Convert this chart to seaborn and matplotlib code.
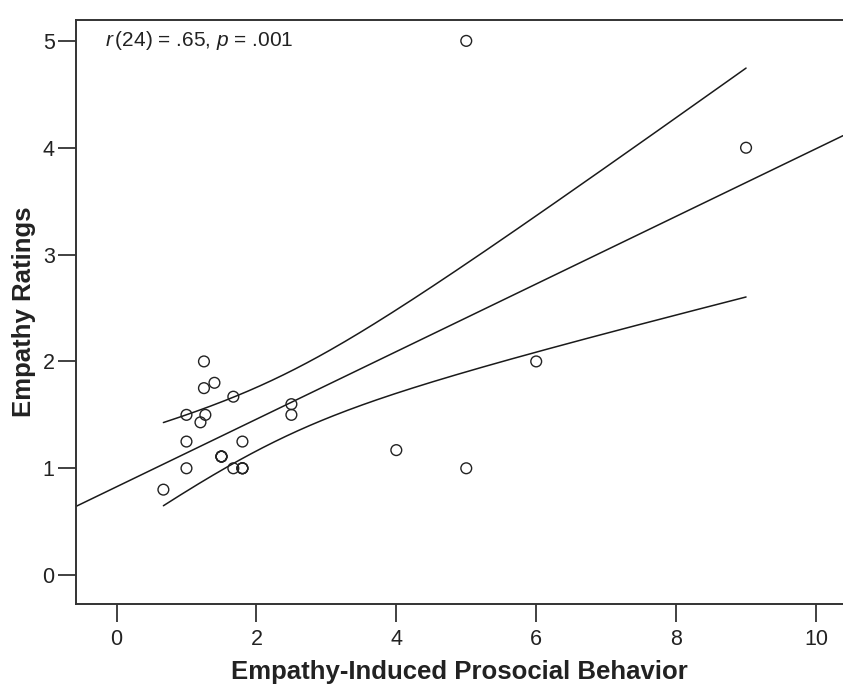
import numpy as np
import pandas as pd
import matplotlib
matplotlib.use("Agg")
import matplotlib.pyplot as plt
import seaborn as sns

# prosocial behaviour (x) and empathy rating (y), one entry per participant
prosocial = [0.67, 1.0, 1.0, 1.0, 1.25, 1.25, 1.4, 1.2, 1.27, 1.5,
             1.5, 1.5, 1.5, 1.67, 1.67, 1.8, 1.8, 1.8, 1.8, 2.5,
             2.5, 5.0, 9.0, 6.0, 4.0, 5.0]
empathy = [0.8, 1.5, 1.25, 1.0, 2.0, 1.75, 1.8, 1.43, 1.5, 1.11,
           1.11, 1.11, 1.11, 1.67, 1.0, 1.25, 1.0, 1.0, 1.0, 1.6,
           1.5, 5.0, 4.0, 2.0, 1.17, 1.0]
x_ticks = [0, 2, 4, 6, 8, 10]
y_ticks = [0, 1, 2, 3, 4, 5]
annotation = r"$\mathit{r}\,$(24) = .65, $\mathit{p}$ = .001"
T_CRIT = 2.064  # t(0.975, df=24)

sns.set_style("white")
plt.rcParams["font.family"] = ["Liberation Sans", "DejaVu Sans"]
plt.rcParams["mathtext.fontset"] = "custom"
plt.rcParams["mathtext.it"] = "Liberation Sans:italic"
plt.rcParams["mathtext.rm"] = "Liberation Sans"

df = pd.DataFrame({"x": prosocial, "y": empathy})

# least squares fit + 95% CI of the mean
x = df["x"].to_numpy()
y = df["y"].to_numpy()
n = len(x)
slope, intercept = np.polyfit(x, y, 1)
resid = y - (intercept + slope * x)
s = np.sqrt(np.sum(resid ** 2) / (n - 2))
sxx = np.sum((x - x.mean()) ** 2)

xlim = (-0.586, 10.386)
ylim = (-0.27, 5.197)

fit_x = np.linspace(xlim[0], xlim[1], 50)
fit = pd.DataFrame({"x": fit_x, "y": intercept + slope * fit_x})

band_x = np.linspace(x.min(), x.max(), 200)
band_mid = intercept + slope * band_x
half = T_CRIT * s * np.sqrt(1 / n + (band_x - x.mean()) ** 2 / sxx)
upper = pd.DataFrame({"x": band_x, "y": band_mid + half})
lower = pd.DataFrame({"x": band_x, "y": band_mid - half})

fig = plt.figure(figsize=(8.43, 6.84), dpi=100)
ax = fig.add_axes([0.0896, 0.117, 0.9104, 0.854])

line_kw = dict(color="#1a1a1a", linewidth=1.1, estimator=None, sort=True, ax=ax)
sns.lineplot(data=fit, x="x", y="y", **line_kw)
sns.lineplot(data=upper, x="x", y="y", **line_kw)
sns.lineplot(data=lower, x="x", y="y", **line_kw)

sns.scatterplot(data=df, x="x", y="y", ax=ax, marker="o", s=60,
                facecolor="none", edgecolor="#222222", linewidth=1.0, zorder=3)

ax.set_xlim(*xlim)
ax.set_ylim(*ylim)
ax.set_xticks(x_ticks)
ax.set_yticks(y_ticks)
ax.tick_params(axis="both", direction="out", length=13, width=1.3,
               color="#333333", labelsize=15.5, labelcolor="#222222",
               bottom=True, left=True)
ax.tick_params(axis="y", pad=2)
ax.tick_params(axis="x", pad=5)

for side in ["left", "bottom", "top"]:
    ax.spines[side].set_color("#333333")
    ax.spines[side].set_linewidth(1.4)
ax.spines["right"].set_visible(False)

ax.set_xlabel("Empathy-Induced Prosocial Behavior", fontsize=18.5,
              fontweight="bold", color="#222222", labelpad=7)
ax.set_ylabel("Empathy Ratings", fontsize=18.5, fontweight="bold",
              color="#222222", labelpad=5)

ax.text(-0.16, 5.0, annotation, fontsize=15, color="#222222", va="center")

fig.savefig("out.png", dpi=100)
